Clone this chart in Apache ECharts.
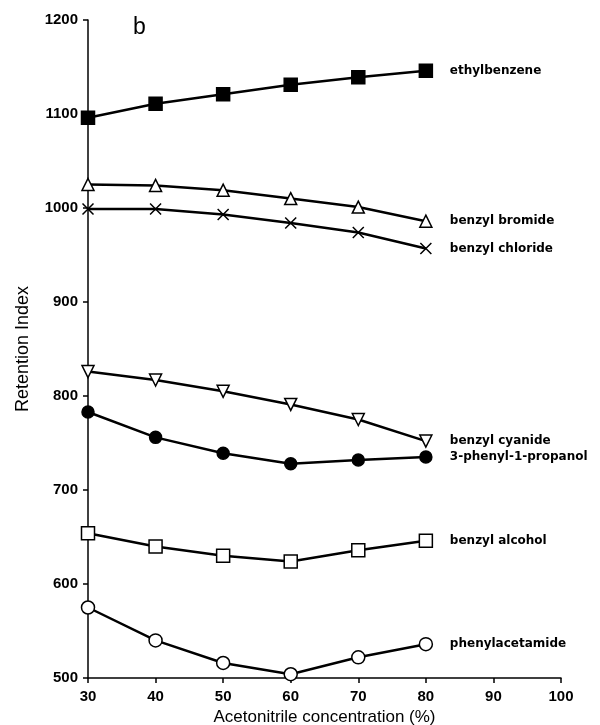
<!DOCTYPE html>
<html><head><meta charset="utf-8">
<script src="https://cdn.jsdelivr.net/npm/echarts@6/dist/echarts.min.js"></script>
<style>html,body{margin:0;padding:0;background:#fff}#c{width:600px;height:725px}</style>
</head><body><div id="c"></div>
<script>
const concentrations = [30, 40, 50, 60, 70, 80];
const ethylbenzene = [1096, 1111, 1121, 1131, 1139, 1146];
const benzylBromide = [1025, 1024, 1019, 1010, 1001, 986];
const benzylChloride = [999, 999, 993, 984, 974, 957];
const benzylCyanide = [826, 817, 805, 791, 775, 752];
const phenylPropanol = [783, 756, 739, 728, 732, 735];
const benzylAlcohol = [654, 640, 630, 624, 636, 646];
const phenylacetamide = [575, 540, 516, 504, 522, 536];
const xTicks = [30, 40, 50, 60, 70, 80, 90, 100];
const yTicks = [500, 600, 700, 800, 900, 1000, 1100, 1200];

const crossPath = 'path://M0,0L10,10M10,0L0,10';
function mk(name, vals, symbol, size, filled, rotate) {
  return {
    name: name, type: 'line',
    data: concentrations.map((x, i) => [x, vals[i]]),
    symbol: symbol, symbolSize: size, symbolRotate: rotate || 0,
    showAllSymbol: true,
    lineStyle: {color: '#000', width: 2.5},
    itemStyle: {color: filled ? '#000' : '#fff', borderColor: '#000', borderWidth: 1.5},
    endLabel: {show: true, formatter: name, distance: 24, color: '#000',
      fontFamily: 'DejaVu Sans', fontWeight: 'bold', fontSize: 12},
    z: 3, animation: false
  };
}
const chart = echarts.init(document.getElementById('c'), null, {renderer: 'canvas'});
chart.setOption({
  animation: false,
  grid: {left: 88, right: 39, top: 20, bottom: 47, containLabel: false, outerBoundsMode: 'none'},
  xAxis: {
    type: 'value', min: 30, max: 100, interval: 10,
    name: 'Acetonitrile concentration (%)', nameLocation: 'middle', nameGap: 28,
    nameTextStyle: {fontFamily: 'Liberation Sans', fontSize: 17, color: '#000'},
    axisLine: {lineStyle: {color: '#000', width: 1.5}},
    axisTick: {lineStyle: {color: '#000', width: 1.5}, length: 5},
    axisLabel: {fontFamily: 'Liberation Sans', fontWeight: 'bold', fontSize: 15, color: '#000', margin: 11,
      formatter: v => xTicks.includes(v) ? String(v) : ''},
    splitLine: {show: false}
  },
  yAxis: {
    type: 'value', min: 500, max: 1200, interval: 100,
    name: 'Retention Index', nameLocation: 'middle', nameGap: 56, nameRotate: 90,
    nameTextStyle: {fontFamily: 'Liberation Sans', fontSize: 18, color: '#000'},
    axisLine: {lineStyle: {color: '#000', width: 1.5}},
    axisTick: {lineStyle: {color: '#000', width: 1.5}, length: 5},
    axisLabel: {fontFamily: 'Liberation Sans', fontWeight: 'bold', fontSize: 15, color: '#000', margin: 10,
      formatter: v => yTicks.includes(v) ? String(v) : ''},
    splitLine: {show: false}
  },
  graphic: [{type: 'text', left: 133, top: 16, style: {text: 'b', fontFamily: 'Liberation Sans', fontSize: 23, fill: '#000'}}],
  series: [
    mk('ethylbenzene', ethylbenzene, 'rect', 13, true),
    mk('benzyl bromide', benzylBromide, 'triangle', 12, false),
    mk('benzyl chloride', benzylChloride, crossPath, 11, false),
    mk('benzyl cyanide', benzylCyanide, 'triangle', 12, false, 180),
    mk('3-phenyl-1-propanol', phenylPropanol, 'circle', 12, true),
    mk('benzyl alcohol', benzylAlcohol, 'rect', 13, false),
    mk('phenylacetamide', phenylacetamide, 'circle', 13, false)
  ]
});
</script></body></html>
